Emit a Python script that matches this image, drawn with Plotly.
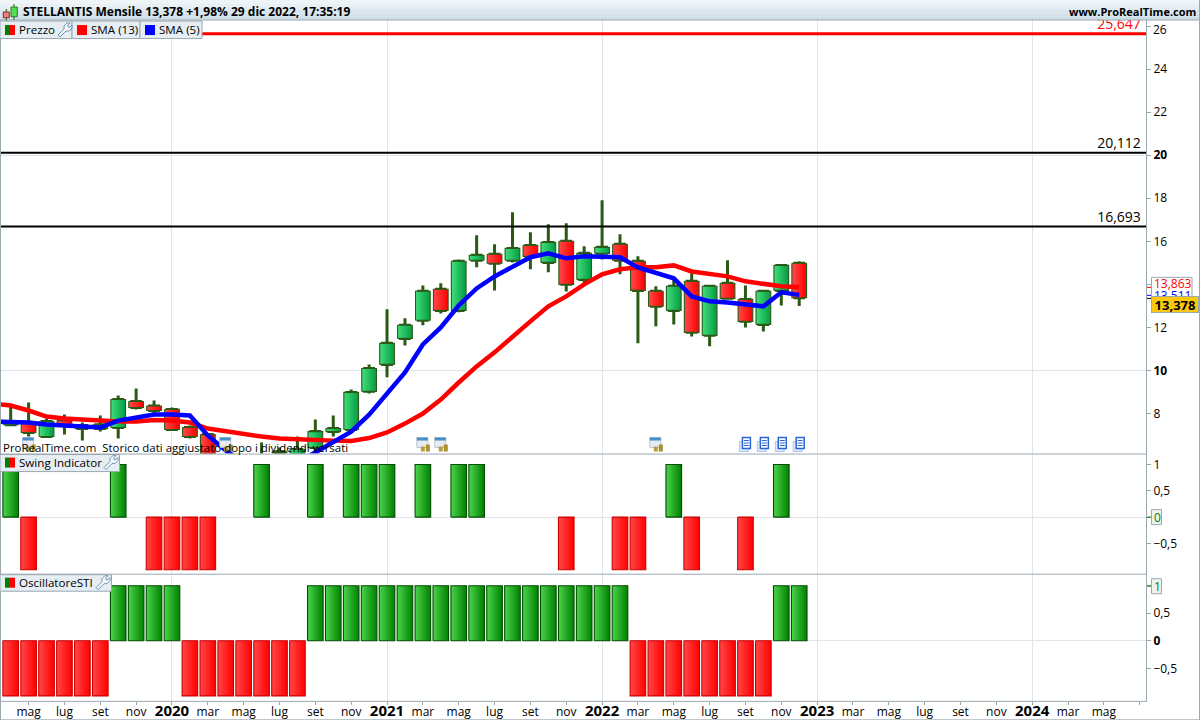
import plotly.graph_objects as go

# ---------- data ----------
months = list(range(45))  # Apr 2019 .. Dec 2022
opens  = [7.48,7.58,6.93,7.67,7.30,7.30,7.35,8.56,8.35,8.19,7.35,7.02,5.30,5.60,5.80,6.17,5.90,6.42,7.16,7.26,9.03,10.28,11.49,12.33,13.77,12.79,15.12,15.40,15.12,15.81,15.02,16.00,14.23,15.44,15.86,15.07,13.68,12.79,14.14,11.63,14.05,13.30,12.14,13.72,14.98]
highs  = [8.33,8.51,7.77,7.95,7.58,7.91,8.84,9.16,8.60,8.28,7.44,7.02,6.05,6.05,6.65,6.42,6.93,7.72,7.91,9.12,10.28,12.84,12.42,13.95,14.05,15.16,16.28,15.86,17.35,16.42,16.79,16.84,15.77,17.91,16.33,15.30,13.91,14.28,14.51,13.95,15.12,13.95,13.72,14.93,15.07]
lows   = [7.44,6.93,6.88,7.02,6.74,7.16,6.84,8.19,8.00,7.21,6.84,5.30,5.10,5.30,5.60,5.80,5.80,6.19,6.93,7.16,8.93,9.68,11.16,12.10,12.65,12.70,14.79,13.72,15.02,14.70,14.56,13.67,14.09,15.16,14.47,11.26,12.05,12.14,11.58,11.12,13.35,12.00,11.81,13.02,13.00]
closes = [7.63,7.12,7.63,7.44,7.44,7.48,8.65,8.28,8.14,7.26,6.93,5.58,5.80,5.90,6.00,6.22,6.33,7.16,7.30,8.98,10.09,11.26,12.10,13.68,12.79,15.07,15.35,14.98,15.67,15.30,15.95,14.00,15.44,15.72,15.12,13.72,12.98,13.91,11.77,13.91,13.35,12.28,13.68,14.88,13.378]
sma_months = list(range(-1, 45))
sma13 = [8.46,8.37,8.14,7.86,7.77,7.72,7.63,7.63,7.63,7.70,7.67,7.58,7.30,7.16,7.02,6.93,6.84,6.79,6.74,6.74,6.72,6.86,7.12,7.53,8.00,8.65,9.44,10.19,10.84,11.58,12.28,12.98,13.44,14.00,14.47,14.70,14.79,14.79,14.88,14.60,14.51,14.37,14.14,14.00,13.91,13.863]
sma5  = [7.63,7.63,7.58,7.49,7.44,7.44,7.35,7.67,7.81,7.95,7.95,7.91,6.98,6.28,5.72,5.35,5.35,5.72,6.19,6.65,7.16,7.95,8.93,9.91,11.21,12.00,13.02,13.81,14.37,14.79,15.26,15.44,15.21,15.30,15.30,15.26,14.79,14.56,14.28,13.44,13.21,13.16,13.07,12.98,13.63,13.511]
level_values = [25.647, 20.112, 16.693]
level_labels = ["25,647", "20,112", "16,693"]
level_colors = ["#ff0000", "#000000", "#000000"]
swing = [1,-1,0,0,0,0,1,0,-1,-1,-1,-1,0,0,1,0,0,1,0,1,1,1,0,1,0,1,1,0,0,0,0,-1,0,0,-1,-1,0,1,-1,0,0,-1,0,1,0]
sti   = [-1,-1,-1,-1,-1,-1,1,1,1,1,-1,-1,-1,-1,-1,-1,-1,1,1,1,1,1,1,1,1,1,1,1,1,1,1,1,1,1,1,-1,-1,-1,-1,-1,-1,-1,-1,1,1]
calendar_events = [1, 12, 23, 24, 36]
document_events = [41, 42, 43, 44]
x_tick_vals = list(range(1, 65, 2))
x_tick_names = ["mag","lug","set","nov","2020","mar","mag","lug","set","nov","2021","mar","mag","lug","set","nov","2022","mar","mag","lug","set","nov","2023","mar","mag","lug","set","nov","2024","mar","mag",""]
year_months = [9, 21, 33, 45, 57]
price_ticks = [26,24,22,20,18,16,14,12,10,8]
price_tick_names = ["","24","22","<b>20</b>","18","16","14","12","<b>10</b>","8"]
swing_ticks = [1,0.5,0,-0.5]
swing_tick_names = ["1","0,5","","−0,5"]
sti_ticks = [1,0.5,0,-0.5]
sti_tick_names = ["","0,5","<b>0</b>","−0,5"]

# ---------- style ----------
W, H = 1200, 722
F = 1.0012
FONT = "Open Sans"
BORDER = "#9aa8b0"
GRID = "#e2e4ec"
WICK = "#2a5a14"
def px(x): return x / W
def py(y): return 1 - (y * F) / H

fig = go.Figure()

def box(i, a, b, hw, c0, c1, line, yaxis):
    fig.add_trace(go.Scatter(
        x=[i-hw, i+hw, i+hw, i-hw, i-hw], y=[a, a, b, b, a], mode="lines",
        fill="toself", fillgradient=dict(type="horizontal", colorscale=[[0, c0], [1, c1]]),
        line=dict(color=line, width=1.1), xaxis="x", yaxis=yaxis, hoverinfo="skip"))

# price panel: wicks as a real candlestick trace, bodies drawn over with gradient fills
fig.add_trace(go.Candlestick(
    x=months, open=opens, high=highs, low=lows, close=closes, whiskerwidth=0,
    increasing=dict(line=dict(color=WICK, width=3), fillcolor=WICK),
    decreasing=dict(line=dict(color=WICK, width=3), fillcolor=WICK),
    xaxis="x", yaxis="y", hoverinfo="skip"))
for m, o, c in zip(months, opens, closes):
    if c >= o:
        box(m, o, c, 0.41, "#40e07c", "#059a42", WICK, "y")
    else:
        box(m, o, c, 0.41, "#ff4a4a", "#ff0000", WICK, "y")

# horizontal levels
for v, t, col in zip(level_values, level_labels, level_colors):
    fig.add_trace(go.Scatter(x=[-2, 70], y=[v, v], mode="lines",
                             line=dict(color=col, width=3 if col != "#000000" else 2),
                             xaxis="x", yaxis="y", hoverinfo="skip"))
    fig.add_trace(go.Scatter(x=[63.06], y=[v+0.05], mode="text", text=[t], textposition="top left",
                             textfont=dict(family=FONT, size=14, color=col), cliponaxis=True,
                             xaxis="x", yaxis="y", hoverinfo="skip"))

# moving averages
fig.add_trace(go.Scatter(x=sma_months, y=sma13, mode="lines", line=dict(color="#ff0000", width=4.5),
                         xaxis="x", yaxis="y", hoverinfo="skip"))
fig.add_trace(go.Scatter(x=sma_months, y=sma5, mode="lines", line=dict(color="#0000ff", width=4.5),
                         xaxis="x", yaxis="y", hoverinfo="skip"))

# indicator panels
for series, ya in ((swing, "y2"), (sti, "y3")):
    for m, v in zip(months, series):
        if v > 0:
            box(m, 0, v, 0.435, "#4cd44c", "#008000", "#004d00", ya)
        elif v < 0:
            box(m, 0, v, 0.435, "#ff4848", "#ff0000", "#cc0000", ya)

shapes, ann = [], []

def rect(x0, y0, x1, y1, fill=None, line=None, lw=1):
    shapes.append(dict(type="rect", xref="paper", yref="paper", layer="above",
                       x0=px(x0), x1=px(x1), y0=py(y0), y1=py(y1),
                       fillcolor=fill or "rgba(0,0,0,0)",
                       line=dict(color=line or "rgba(0,0,0,0)", width=lw if line else 0)))

def hline(x0, x1, y, col=BORDER, lw=1):
    shapes.append(dict(type="line", xref="paper", yref="paper", layer="above",
                       x0=px(x0), x1=px(x1), y0=py(y), y1=py(y), line=dict(color=col, width=lw)))

def vline(x, y0, y1, col=BORDER, lw=1):
    shapes.append(dict(type="line", xref="paper", yref="paper", layer="above",
                       x0=px(x), x1=px(x), y0=py(y0), y1=py(y1), line=dict(color=col, width=lw)))

def text(x, y, s, size=11.6, col="#000000", anchor="left", fam=FONT):
    ann.append(dict(xref="paper", yref="paper", x=px(x), y=py(y), text=s, showarrow=False,
                    xanchor=anchor, yanchor="middle", borderpad=0, borderwidth=0,
                    font=dict(family=fam, size=size, color=col)))

def wrench(x, y):
    pts = [(0,12),(2,14),(8,8),(11,8),(14,5),(14,2),(12,4),(10,4),(10,2),(12,0),(9,0),(6,3),(6,6)]
    d = "M" + " L".join(f"{px(x+a):.5f},{py(y+b):.5f}" for a, b in pts) + " Z"
    shapes.append(dict(type="path", xref="paper", yref="paper", layer="above", path=d,
                       fillcolor="rgba(255,255,255,0.6)", line=dict(color="#6f96b5", width=1)))

def flag(x, y):
    rect(x, y, x+5, y+10, "#008000")
    rect(x+5, y, x+10, y+10, "#ff0000")

# header gradient band
band = ["#eef4f7", "#e8f0f4", "#e1ebf1", "#dae6ee", "#d3e2ea", "#cddee8"]
for k, c in enumerate(band):
    rect(0, k*20/6, W, (k+1)*20/6, c)
hline(0, W, 20)
text(23, 11.5, "<b>STELLANTIS Mensile 13,378 +1,98% 29 dic 2022, 17:35:19</b>", 12)
text(1196, 11.5, "<b>www.ProRealTime.com</b>", 11, anchor="right")
# header candle icon
vline(6.3, 9, 21, WICK, 1); vline(14, 4, 20, WICK, 1)
rect(3.3, 12, 9.3, 17.7, "#f08080", "#7a3030")
rect(11, 7, 17.3, 16.7, "#55dd55", "#2a7a2a")

# panel frames
vline(0.5, 20, 720); vline(1146.5, 20, 700); vline(1199.5, 0, 720)
hline(0, 1147, 453.5); hline(0, 1147, 573.5); hline(0, 1147, 700.5); hline(0, W, 719)

# price legend boxes
for a, b in ((0, 72), (72, 140), (140, 202)):
    rect(a, 21, b, 38.5, "#e6eef3", BORDER)
flag(5, 25); rect(77, 25, 87, 35, "#ff0000"); rect(145, 25, 155, 35, "#0000ff")
text(19, 29.5, "Prezzo"); wrench(58, 23)
text(91, 29.5, "SMA (13)"); text(159, 29.5, "SMA (5)")
# panel labels
rect(0, 454, 119.5, 471, "#e6eef3", BORDER); flag(5, 457)
text(19, 462, "Swing Indicator"); wrench(104, 455)
rect(0, 574, 111.5, 590.5, "#e6eef3", BORDER); flag(5, 577)
text(19, 582, "OscillatoreSTI"); wrench(96, 575)

# calendar and document markers
M0, MS = 10.7, 17.92
for m in calendar_events:
    c = M0 + MS*m
    rect(c-6, 437, c+5, 447, "#e8ecf2", "#b8c4d4")
    rect(c-6, 437, c+5, 440, "#4a90c8")
    rect(c-2, 446, c+2, 451, "#b8a040")
    rect(c+3, 444, c+7, 451, "#a89030")
for m in document_events:
    c = M0 + MS*m
    rect(c-6, 441, c+3, 451, "#dfe9fb", "#a8c4f0")
    rect(c-3, 437, c+5, 448, "#ffffff", "#2a64d0", 1.5)
    hline(c-1.5, c+3.5, 440, "#2a64d0"); hline(c-1.5, c+3.5, 442.5, "#2a64d0"); hline(c-1.5, c+3.5, 445, "#2a64d0")

text(3, 447, "ProRealTime.com&#160;&#160;Storico dati aggiustato dopo i dividendi versati", 11.45)

# axis tags
text(1153, 29, "26", 12)
hline(1147, 1151, 287, "#ff0000"); hline(1147, 1151, 295, "#0000ff"); hline(1147, 1151, 298, "#000000")
rect(1151.5, 277, 1192, 297, "#ffffff", BORDER)
text(1154, 283.5, "13,863", 12, "#ff0000")
text(1154, 295, "13,511", 12, "#0000ff")
ann.append(dict(xref="paper", yref="paper", x=px(1151), y=py(295.5), xanchor="left", yanchor="top",
                width=46, height=15, align="center", valign="middle", showarrow=False, text="<b>13,378</b>",
                bgcolor="#fcc80e", bordercolor=BORDER, borderwidth=1, borderpad=0,
                font=dict(family=FONT, size=13, color="#000000")))
hline(1147, 1151, 516.5, "#008000")
rect(1151.5, 509, 1161.5, 524, "#eef2ee", BORDER); text(1153.5, 516.5, "0", 12, "#008000")
hline(1147, 1151, 585.5, "#008000")
rect(1151.5, 578, 1161.5, 593, "#eef2ee", BORDER); text(1153.5, 585.5, "1", 12, "#008000")

ticks_x = [f'<span style="font-size:15px"><b>{t}</b></span>' if t.isdigit() else t for t in x_tick_names]
tickfont = dict(family=FONT, size=12, color="#000000")
yc = dict(side="right", anchor="x", showgrid=False, zeroline=False, ticks="outside", ticklen=4,
          tickcolor=BORDER, tickfont=tickfont, tickmode="array", showline=False)

fig.update_layout(
    width=W, height=H, margin=dict(l=0, r=0, t=0, b=0), autosize=False,
    paper_bgcolor="#ffffff", plot_bgcolor="#ffffff", showlegend=False,
    shapes=shapes, annotations=ann, hovermode=False,
    xaxis=dict(domain=[px(1), px(1146)], range=[-0.54, 63.35], anchor="y3", showgrid=False, zeroline=False,
               tickmode="array", tickvals=x_tick_vals, ticktext=ticks_x, ticks="outside", ticklen=3,
               ticklabelstandoff=-3,
               tickcolor=BORDER, tickfont=tickfont, tickangle=0, rangeslider=dict(visible=False),
               minor=dict(tickmode="array", tickvals=year_months, showgrid=True, gridcolor=GRID, gridwidth=1, ticks="")),
    yaxis=dict(domain=[py(453), py(20)], range=[6.14, 26.28], tickvals=price_ticks, ticktext=price_tick_names,
               minor=dict(tickmode="array", tickvals=[10, 20], showgrid=True, gridcolor=GRID, gridwidth=1, ticks=""), **yc),
    yaxis2=dict(domain=[py(573), py(454)], range=[-1.076, 1.19], tickvals=swing_ticks, ticktext=swing_tick_names,
                minor=dict(tickmode="array", tickvals=[0], showgrid=True, gridcolor=GRID, gridwidth=1, ticks=""), **yc),
    yaxis3=dict(domain=[py(700), py(574)], range=[-1.09, 1.2], tickvals=sti_ticks, ticktext=sti_tick_names,
                minor=dict(tickmode="array", tickvals=[0], showgrid=True, gridcolor=GRID, gridwidth=1, ticks=""), **yc),
)

fig.write_html("out.html", config={"displayModeBar": False}, default_width="1200px", default_height="720px",
               post_script="document.documentElement.style.overflow='hidden';document.documentElement.style.margin='0';document.body.style.margin='0';document.body.style.padding='0';document.body.style.overflow='hidden';")
